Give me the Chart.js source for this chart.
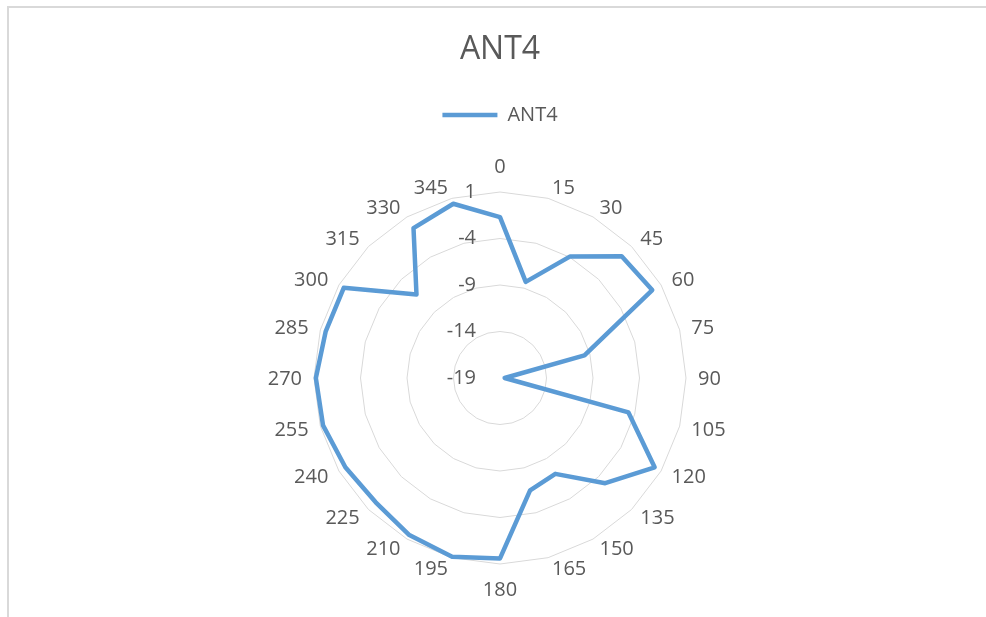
<!DOCTYPE html>
<html>
<head>
<meta charset="utf-8">
<title>ANT4</title>
<script src="https://cdn.jsdelivr.net/npm/chart.js@4/dist/chart.umd.min.js"></script>
<style>
  html, body { margin: 0; padding: 0; background: #fff; }
  #wrap { position: relative; width: 986px; height: 617px; overflow: hidden; }
  #frame {
    position: absolute; left: 7px; top: 6px; width: 990px; height: 620px;
    border-top: 2px solid #d9d9d9; border-left: 2px solid #d9d9d9;
    pointer-events: none;
  }
</style>
</head>
<body>
<div id="wrap">
  <canvas id="chart" width="986" height="617"></canvas>
  <div id="frame"></div>
</div>
<script>
// angles (degrees) around the radar
const angles = ['0', '15', '30', '45', '60', '75', '90', '105', '120', '135', '150', '165',
                '180', '195', '210', '225', '240', '255', '270', '285', '300', '315', '330', '345'];
// ANT4 gain values
const ant4 = [-1.7, -8.3, -3.9, -0.5, -0.1, -9.6, -18.5, -4.7, 0.2, -3.0, -7.1, -6.5,
              0.4, 0.9, 0.5, -0.1, 0.2, 0.7, 0.8, 0.4, 0.4, -6.3, -0.4, 0.4];
// radial axis ticks
const tickValues = [-19, -14, -9, -4, 1];

const TEXT = '#595959';
const FONT = "'Open Sans', sans-serif";

// Excel style labels: tick values left of the vertical axis,
// category labels vertically centred on the anchor, left/right aligned by side
const excelLabels = {
  id: 'excelLabels',
  afterDatasetsDraw(chart) {
    const scale = chart.scales.r;
    const ctx = chart.ctx;
    ctx.save();
    ctx.font = '20px ' + FONT;
    ctx.fillStyle = TEXT;
    ctx.textBaseline = 'middle';

    ctx.textAlign = 'right';
    tickValues.forEach(v => {
      const p = scale.getPointPositionForValue(0, v);
      ctx.fillText(String(v), scale.xCenter - 24, p.y);
    });

    angles.forEach((lbl, i) => {
      const a = scale.getIndexAngle(i);
      const s = Math.sin(a);
      const c = Math.cos(a);
      const p = scale.getPointPosition(i, scale.drawingArea + 11);
      let x = p.x;
      let y = p.y + 1;
      if (Math.abs(s) < 1e-6) {
        ctx.textAlign = 'center';
        y += c > 0 ? -15 : 14;
      } else {
        ctx.textAlign = s > 0 ? 'left' : 'right';
        x += s > 0 ? 1 : -1;
      }
      ctx.fillText(lbl, x, y);
    });
    ctx.restore();
  }
};

new Chart(document.getElementById('chart'), {
  type: 'radar',
  data: {
    labels: angles,
    datasets: [{
      label: 'ANT4',
      data: ant4,
      borderColor: '#5b9bd5',
      backgroundColor: '#5b9bd5',
      borderWidth: 4.5,
      borderJoinStyle: 'round',
      pointRadius: 0,
      pointHoverRadius: 0,
      fill: false
    }]
  },
  options: {
    responsive: false,
    animation: false,
    layout: { padding: { left: 14, right: 0, top: 0, bottom: 53 } },
    plugins: {
      title: {
        display: true,
        text: 'ANT4',
        color: TEXT,
        font: { family: FONT, size: 32, weight: 'normal' },
        padding: { top: 31, bottom: 25.6 }
      },
      legend: {
        display: true,
        position: 'top',
        labels: {
          color: TEXT,
          font: { family: FONT, size: 20 },
          usePointStyle: true,
          pointStyle: 'line',
          pointStyleWidth: 55,
          padding: 10
        }
      },
      // empty spacer between legend and plot
      subtitle: {
        display: true,
        text: '',
        weight: 500,
        font: { size: 1, lineHeight: 1 },
        padding: { top: 56, bottom: 0 }
      },
      tooltip: { enabled: false }
    },
    scales: {
      r: {
        min: -19,
        max: 1,
        ticks: { stepSize: 5, display: false },
        grid: { color: '#d9d9d9', lineWidth: 1 },
        angleLines: { display: false },
        pointLabels: { display: false }
      }
    }
  },
  plugins: [excelLabels]
});
</script>
</body>
</html>
